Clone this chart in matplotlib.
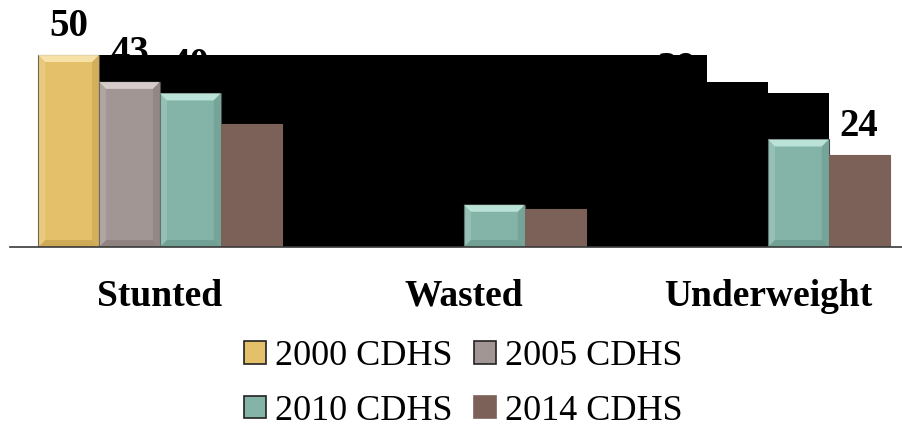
import numpy as np
import matplotlib
matplotlib.use("Agg")
import matplotlib.pyplot as plt
from matplotlib.patches import Polygon, Patch

# Child nutrition indicators by survey round (%)
categories = ["Stunted", "Wasted", "Underweight"]
surveys = ["2000 CDHS", "2005 CDHS", "2010 CDHS", "2014 CDHS"]
stunted = [50, 43, 40, 32]
wasted = [17, 8, 11, 10]
underweight = [39, 28, 28, 24]

face = ["#E5C06B", "#A19694", "#84B4A8", "#7B6158"]
light = ["#F8E6AE", "#DCD3D1", "#C2E8DD", None]
dark = ["#B48E3E", "#776D6A", "#5B8A7E", None]

plt.rcParams["font.family"] = ["Liberation Serif", "DejaVu Serif"]

fig = plt.figure(figsize=(9.03, 4.28), dpi=100)
ax = fig.add_axes([10 / 903, 181 / 428, 893 / 903, 230.4 / 428])

values = np.array([stunted, wasted, underweight])  # groups x surveys
x = np.arange(len(categories))
width = 0.2
ax.set_xlim(-0.493, 2.444)
ax.set_ylim(0, 60)


def bevel(rect, i, z):
    # raised-tile look: light top, shaded sides
    if light[i] is None:
        return
    (x0, y0), (x1, y1) = ax.transData.transform(
        [(rect.get_x(), rect.get_y()), (rect.get_x() + rect.get_width(), rect.get_height())])
    b = 7
    pieces = [
        ([(x0, y1), (x1, y1), (x1 - b, y1 - b), (x0 + b, y1 - b)], light[i], 0.9),
        ([(x0, y0), (x1, y0), (x1 - b, y0 + b), (x0 + b, y0 + b)], dark[i], 0.45),
        ([(x1, y0), (x1, y1), (x1 - b, y1 - b), (x1 - b, y0 + b)], dark[i], 0.35),
        ([(x0, y0), (x0, y1), (x0 + b, y1 - b), (x0 + b, y0 + b)], light[i], 0.25),
    ]
    for pts, c, a in pieces:
        ax.add_patch(Polygon(pts, closed=True, transform=None, facecolor=c,
                             edgecolor="none", alpha=a, zorder=z + 0.1))


for i in range(len(surveys)):
    pos = x + (i - 1.5) * width
    for j in range(len(categories)):
        # older rounds outside the stunting group sit under the dark backdrop
        z = 2 if (i < 2 and j > 0) else 4
        r = ax.bar(pos[j], values[j, i], width, color=face[i],
                   edgecolor="#4a4a4a" if light[i] else face[i],
                   linewidth=0.8, zorder=z)[0]
        bevel(r, i, z)
        ax.annotate(str(values[j, i]), (pos[j], values[j, i]),
                    xytext=(0, 7), textcoords="offset points",
                    ha="center", va="bottom", fontsize=28, fontweight="bold",
                    zorder=1)

# dark backdrop behind the later bars
left = 0 - 1.5 * width + width / 2
edges = [left, 2 - 1.0 * width, 2, 2 + width]
heights = [stunted[0], stunted[1], stunted[2]]
xs, ys = [left], [0]
for k in range(3):
    xs += [edges[k], edges[k + 1]]
    ys += [heights[k], heights[k]]
xs.append(edges[-1])
ys.append(0)
ax.fill(xs, ys, color="black", zorder=3, linewidth=0)

ax.set_xticks(x)
ax.set_xticklabels(categories, fontsize=27, fontweight="bold")
ax.tick_params(axis="x", length=0, pad=23)
ax.set_yticks([])
for s in ["top", "left", "right"]:
    ax.spines[s].set_visible(False)
ax.spines["bottom"].set_color("#3a3a3a")
ax.spines["bottom"].set_linewidth(1.2)
ax.spines["bottom"].set_zorder(5)

# legend reads row by row: 2000, 2005 / 2010, 2014
order = [0, 2, 1, 3]
handles = [Patch(facecolor=face[i], edgecolor="#222222" if light[i] else face[i],
                 linewidth=1.2) for i in range(len(surveys))]
fig.legend([handles[k] for k in order], [surveys[k] for k in order],
           loc="center", bbox_to_anchor=(0.513, 0.103), ncol=2, frameon=False,
           fontsize=26, handlelength=0.6, handleheight=0.6, handletextpad=0.25,
           columnspacing=0.6, labelspacing=0.6, borderpad=0)

fig.savefig("out.png", dpi=100)
